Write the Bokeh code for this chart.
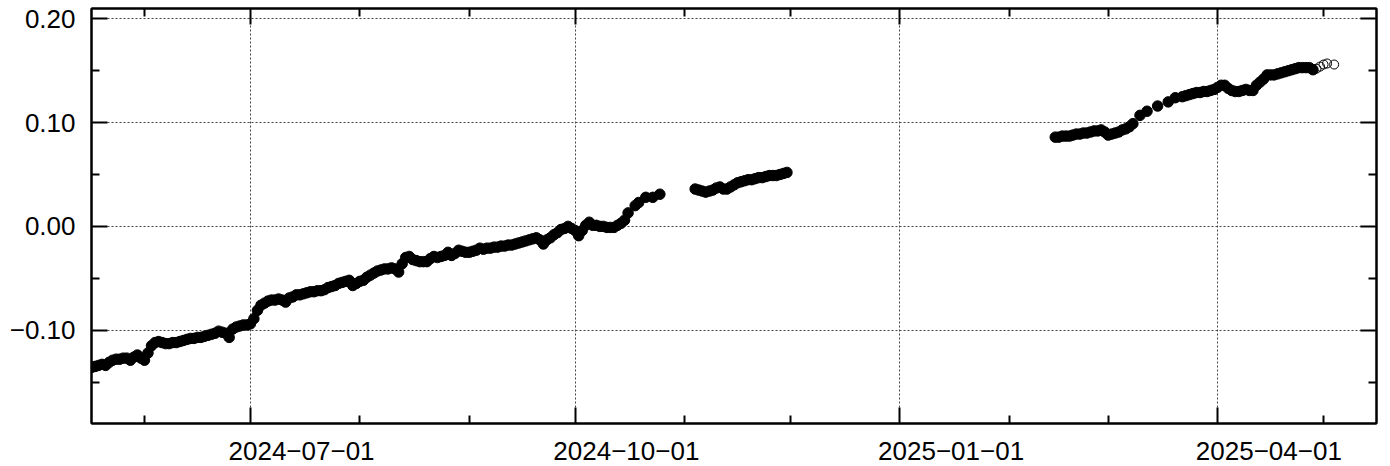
import pandas as pd
from bokeh.plotting import figure
from bokeh.models import FixedTicker, DatetimeAxis, LinearAxis, Range1d
from bokeh.embed import file_html
from bokeh.resources import INLINE

# ---------------- data ----------------
x_start = "2024-05-17"
x_end = "2025-05-16"
y_start, y_end = -0.19, 0.21

quarter_ticks = ["2024-07-01", "2024-10-01", "2025-01-01", "2025-04-01"]
month_ticks = ["2024-06-01", "2024-08-01", "2024-09-01", "2024-11-01",
               "2024-12-01", "2025-02-01", "2025-03-01", "2025-05-01"]
label_pos = ["2024-07-15 12:00", "2024-10-15 12:00", "2025-01-15 12:00", "2025-04-15 12:00"]
x_labels = ["2024\u221207\u221201", "2024\u221210\u221201", "2025\u221201\u221201", "2025\u221204\u221201"]

y_ticks = [-0.1, 0.0, 0.1, 0.2]
y_minor = [-0.15, -0.05, 0.05, 0.15]
y_labels = ["\u22120.10", "0.00", "0.10", "0.20"]

# segment 1 : daily 2024-05-17 .. 2024-10-16, then a few sparse days
seg1_dates = list(pd.date_range("2024-05-17", "2024-10-16")) + \
    [pd.Timestamp(d) for d in ["2024-10-18", "2024-10-19", "2024-10-21", "2024-10-23", "2024-10-25"]]
seg1_vals = [
    -0.136, -0.135, -0.134, -0.133, -0.134, -0.131, -0.129, -0.128, -0.128, -0.127,
    -0.127, -0.129, -0.126, -0.124, -0.127, -0.129, -0.122, -0.115, -0.112, -0.111,
    -0.112, -0.113, -0.113, -0.112, -0.112, -0.111, -0.110, -0.109, -0.108, -0.108,
    -0.107, -0.107, -0.106, -0.105, -0.104, -0.103, -0.101, -0.102, -0.103, -0.107,
    -0.099, -0.097, -0.096, -0.095, -0.095, -0.094, -0.089, -0.081, -0.076, -0.074,
    -0.072, -0.071, -0.071, -0.070, -0.071, -0.073, -0.069, -0.068, -0.066, -0.066,
    -0.065, -0.064, -0.063, -0.063, -0.062, -0.062, -0.061, -0.059, -0.058, -0.057,
    -0.055, -0.054, -0.053, -0.052, -0.057, -0.055, -0.053, -0.052, -0.049, -0.047,
    -0.045, -0.043, -0.042, -0.041, -0.041, -0.040, -0.041, -0.044, -0.036, -0.030,
    -0.029, -0.032, -0.033, -0.034, -0.034, -0.034, -0.031, -0.029, -0.030, -0.029,
    -0.028, -0.025, -0.028, -0.026, -0.023, -0.024, -0.025, -0.025, -0.024, -0.023,
    -0.021, -0.022, -0.021, -0.021, -0.020, -0.020, -0.019, -0.019, -0.018, -0.018,
    -0.017, -0.016, -0.015, -0.014, -0.013, -0.012, -0.011, -0.013, -0.017, -0.013,
    -0.011, -0.008, -0.006, -0.003, -0.002, 0.000, -0.002, -0.004, -0.009, -0.004,
    0.001, 0.004, 0.001, 0.001, 0.000, 0.000, -0.001, -0.001, -0.001, 0.001,
    0.003, 0.006, 0.013,
    0.020, 0.023, 0.028, 0.028, 0.031,
]

# segment 2 : daily 2024-11-04 .. 2024-11-30
seg2_dates = list(pd.date_range("2024-11-04", "2024-11-30"))
seg2_vals = [
    0.036, 0.035, 0.034, 0.033, 0.034, 0.035, 0.037, 0.038, 0.036, 0.036,
    0.038, 0.040, 0.042, 0.043, 0.044, 0.045, 0.045, 0.046, 0.047, 0.047,
    0.048, 0.049, 0.049, 0.049, 0.050, 0.051, 0.052,
]

# segment 3 : 2025-02-14 .. 2025-04-28 (a few sparse days in mid-March)
seg3_dates = list(pd.date_range("2025-02-14", "2025-03-08")) + \
    [pd.Timestamp(d) for d in ["2025-03-10", "2025-03-12", "2025-03-15", "2025-03-18", "2025-03-20"]] + \
    list(pd.date_range("2025-03-22", "2025-04-28"))
seg3_vals = [
    0.086, 0.086, 0.087, 0.087, 0.087, 0.088, 0.089, 0.089, 0.090, 0.090,
    0.091, 0.092, 0.092, 0.093, 0.091,
    0.088, 0.089, 0.090, 0.091, 0.093, 0.094, 0.096, 0.099,
    0.107, 0.111, 0.116, 0.120, 0.124,
    0.125, 0.126, 0.127, 0.128, 0.129, 0.129, 0.130, 0.130, 0.131, 0.132,
    0.134, 0.136, 0.136, 0.133, 0.131, 0.130, 0.130, 0.131, 0.132, 0.131,
    0.131, 0.136, 0.139, 0.142, 0.146, 0.146, 0.146, 0.147, 0.148, 0.149,
    0.150, 0.151, 0.152, 0.153, 0.153, 0.153, 0.153, 0.151,
]

# open (provisional) points
open_dates = [pd.Timestamp(d) for d in ["2025-04-29", "2025-04-30", "2025-05-01", "2025-05-02", "2025-05-04"]]
open_vals = [0.152, 0.154, 0.156, 0.157, 0.156]

n1 = min(len(seg1_dates), len(seg1_vals))
n2 = min(len(seg2_dates), len(seg2_vals))
n3 = min(len(seg3_dates), len(seg3_vals))
filled_dates = seg1_dates[:n1] + seg2_dates[:n2] + seg3_dates[:n3]
filled_vals = seg1_vals[:n1] + seg2_vals[:n2] + seg3_vals[:n3]


def ms(s):
    return pd.Timestamp(s).value / 1e6


FONT = "Liberation Sans"
FSIZE = "26px"

p = figure(width=1382, height=471, x_axis_type="datetime",
           x_range=Range1d(pd.Timestamp(x_start), pd.Timestamp(x_end)),
           y_range=Range1d(y_start, y_end),
           output_backend="svg", toolbar_location=None,
           min_border_left=91, min_border_right=6, min_border_top=8, min_border_bottom=48)
p.background_fill_color = "white"
p.border_fill_color = "white"
p.outline_line_color = "black"
p.outline_line_width = 2

xt = FixedTicker(ticks=[ms(d) for d in quarter_ticks], minor_ticks=[ms(d) for d in month_ticks])
yt = FixedTicker(ticks=y_ticks, minor_ticks=y_minor)


def tick_style(ax):
    ax.axis_line_color = "black"
    ax.axis_line_width = 2
    ax.major_tick_in = 16
    ax.major_tick_out = 0
    ax.minor_tick_in = 8
    ax.minor_tick_out = 0
    ax.major_tick_line_width = 2
    ax.minor_tick_line_width = 2
    ax.major_tick_line_color = "black"
    ax.minor_tick_line_color = "black"


def hide_labels(ax):
    # no text colour -> labels are neither drawn nor given space
    ax.major_label_text_color = None
    ax.major_label_standoff = 0


# bottom: tick marks only (nearest to frame)
bx = p.xaxis[0]
bx.ticker = xt
tick_style(bx)
hide_labels(bx)

# bottom: labels (centered mid-month, as in the reference)
lab = DatetimeAxis(ticker=FixedTicker(ticks=[ms(d) for d in label_pos], minor_ticks=[]),
                   major_label_overrides={ms(d): t for d, t in zip(label_pos, x_labels)})
lab.axis_line_color = None
lab.major_tick_line_color = None
lab.minor_tick_line_color = None
lab.major_tick_in = 0
lab.major_tick_out = 0
lab.minor_tick_in = 0
lab.minor_tick_out = 0
lab.major_label_standoff = 18
lab.major_label_text_font = FONT
lab.major_label_text_font_size = FSIZE
lab.major_label_text_color = "black"
p.add_layout(lab, "below")

# left axis with labels
ly = p.yaxis[0]
ly.ticker = yt
tick_style(ly)
ly.major_label_overrides = {v: t for v, t in zip(y_ticks, y_labels)}
ly.major_label_standoff = 16
ly.major_label_text_font = FONT
ly.major_label_text_font_size = FSIZE
ly.major_label_text_color = "black"

# top and right: ticks only
tx = DatetimeAxis(ticker=xt)
tick_style(tx)
hide_labels(tx)
p.add_layout(tx, "above")

ry = LinearAxis(ticker=yt)
tick_style(ry)
hide_labels(ry)
p.add_layout(ry, "right")

# grids
p.xgrid[0].ticker = xt
p.ygrid[0].ticker = yt
for g in (p.xgrid[0], p.ygrid[0]):
    g.grid_line_color = "#444444"
    g.grid_line_width = 1
    g.grid_line_dash = "2 2"

p.scatter(x=filled_dates, y=filled_vals, marker="circle", size=10.5,
          fill_color="black", line_color="black", line_width=1)
p.scatter(x=open_dates, y=open_vals, marker="circle", size=9,
          fill_color=None, line_color="black", line_width=1)

open("out.html", "w").write(file_html(p, INLINE))
